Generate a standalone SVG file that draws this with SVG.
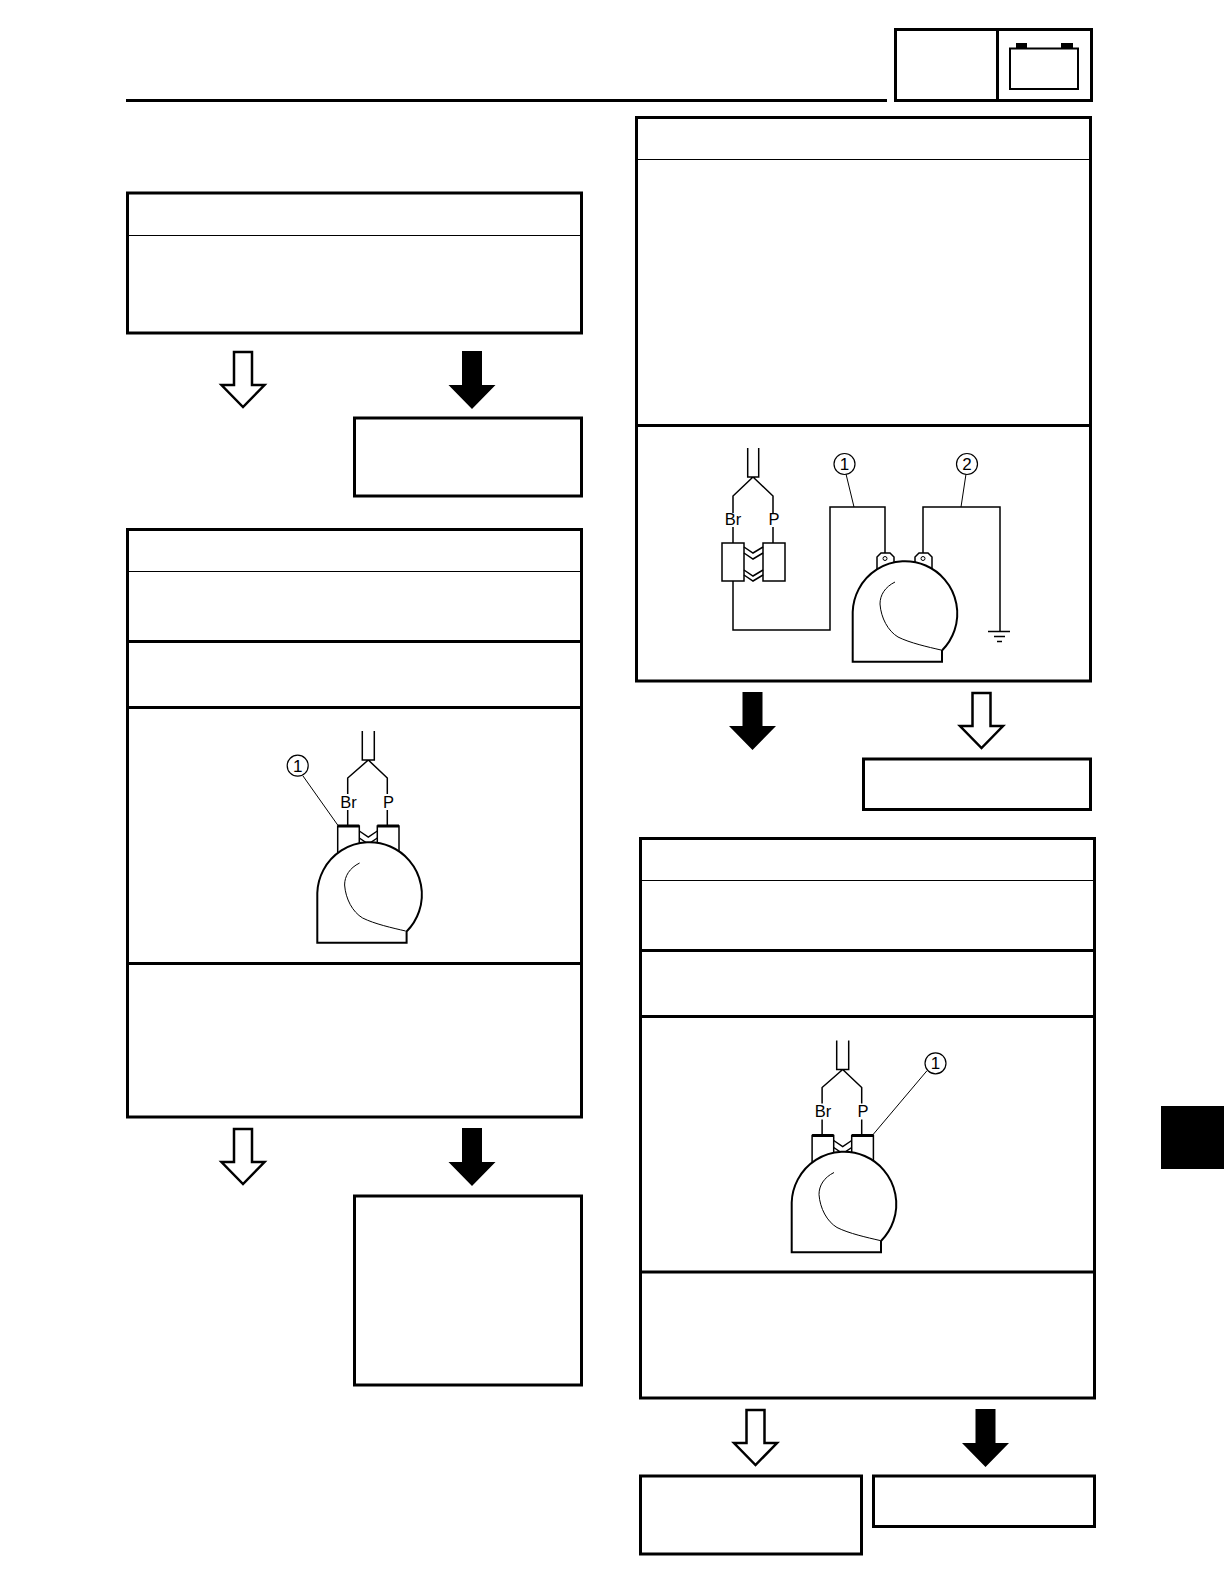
<svg xmlns="http://www.w3.org/2000/svg" xmlns:xlink="http://www.w3.org/1999/xlink" width="1224" height="1584" viewBox="0 0 1224 1584">
<style>
.box{fill:#fff;stroke:#000;stroke-width:3}
.thick{stroke:#000;stroke-width:3;fill:none}
.thin{stroke:#000;stroke-width:1;fill:none}
.wire{stroke:#000;stroke-width:1.5;fill:none}
.body{stroke:#000;stroke-width:2;fill:#fff}
.fine{stroke:#000;stroke-width:1;fill:none}
.plug{stroke:#000;stroke-width:1.5;fill:#fff}
.lbl{font-family:"Liberation Sans",Arial,sans-serif;font-size:16.5px;text-anchor:middle;fill:#000}
.num{font-family:"Liberation Sans",Arial,sans-serif;font-size:17px;text-anchor:middle;fill:#000}
.circ{stroke:#000;stroke-width:1.2;fill:#fff}
</style>
<defs>
<path id="arrow-solid" d="M-10 0H10V34H23.5L0 58L-23.5 34H-10Z" fill="#000"/>
<path id="arrow-hollow" d="M-9 1H9V34H21.5L0 56L-21.5 34H-9Z" fill="#fff" stroke="#000" stroke-width="2.5"/>
<g id="horn">
<path class="body" d="M852.7 661.7V612A52.3 52.3 0 1 1 942 650.5V661.7Z"/>
<path class="fine" d="M895 582C885 587 880 595 880 604C881 618 888 631 898 637C910 643 928 647 941 650"/>
</g>
<g id="horn-plug">
<path class="wire" d="M362.3 731V760H374.3V731M368.3 760L347.7 778V794M368.3 760L387.3 778V794M347.7 810V826M387.3 810V826"/>
<path class="plug" d="M337.7 826H359.3V870H337.7ZM377.3 826H399V870H377.3Z"/>
<path class="thick" d="M337.7 826H359.3M377.3 826H399"/>
<path class="wire" d="M359.3 831L368.3 837L377.3 831M359.3 838L368.3 844L377.3 838"/>
<use href="#horn" transform="translate(-535.4 281)"/>
<text class="lbl" x="348.5" y="807.5">Br</text>
<text class="lbl" x="388.5" y="807.5">P</text>
</g>
</defs>

<g id="header">
<path d="M126 100.5H887" stroke="#000" stroke-width="3"/>
<rect class="box" x="895.5" y="29.5" width="196" height="71"/>
<path class="thick" d="M997.5 29.5V100.5"/>
<rect x="1010" y="48.5" width="68" height="40.5" fill="#fff" stroke="#000" stroke-width="2"/>
<rect x="1016" y="43" width="11" height="5.5" fill="#000"/>
<rect x="1061" y="43" width="12" height="5.5" fill="#000"/>
</g>

<g id="box-a">
<rect class="box" x="127.5" y="193" width="454" height="140"/>
<path class="thin" d="M127.5 235.5H581.5"/>
</g>
<g id="box-b"><rect class="box" x="354.5" y="418" width="227" height="78"/></g>
<g id="box-c">
<rect class="box" x="127.5" y="529.5" width="454" height="587.5"/>
<path class="thin" d="M127.5 571.5H581.5"/>
<path class="thick" d="M127.5 641.5H581.5M127.5 707.5H581.5M127.5 963.5H581.5"/>
<use href="#horn-plug"/>
<path class="fine" d="M303 776L337.7 825"/>
<circle class="circ" cx="297.7" cy="765.7" r="10.5"/>
<text class="num" x="297.7" y="771.7">1</text>
</g>
<g id="box-d"><rect class="box" x="354.5" y="1196" width="227" height="189"/></g>
<g id="box-e">
<rect class="box" x="636.5" y="117.5" width="454" height="563.5"/>
<path class="thin" d="M636.5 159.5H1090.5"/>
<path class="thick" d="M636.5 425.5H1090.5"/>
<path class="wire" d="M747.7 448V477H758.7V448M753 477L733 496V513M753 477L773 496V513M733 527V543M773 527V543"/>
<path class="plug" d="M722 543H744V581H722ZM763 543H785V581H763Z"/>
<path class="wire" d="M744 547L753 553L763 547M744 553L753 559L763 553M744 570L753 576L763 570M744 575L753 581L763 575"/>
<text class="lbl" x="733" y="525">Br</text>
<text class="lbl" x="774" y="525">P</text>
<path class="wire" d="M733 581V630H830V507H885V553M923 553V507H1000V631.5"/>
<path class="wire" d="M988 631.5H1010M994 636.5H1005"/>
<path d="M997 641.5H1002" stroke="#000" stroke-width="1.5"/>
<path class="plug" d="M877 570V557L881 553H890L894 557V566ZM915 566V557L919 553H928L932 557V570Z"/>
<circle class="fine" cx="885" cy="558.5" r="2"/>
<circle class="fine" cx="923" cy="558.5" r="2"/>
<use href="#horn"/>
<path class="fine" d="M846 474L854 507M966 474L961 507"/>
<circle class="circ" cx="844.5" cy="464" r="10.5"/>
<circle class="circ" cx="967" cy="464" r="10.5"/>
<text class="num" x="844.5" y="470">1</text>
<text class="num" x="967" y="470">2</text>
</g>
<g id="box-f"><rect class="box" x="863.5" y="759" width="227" height="50.5"/></g>
<g id="box-g">
<rect class="box" x="640.5" y="838.5" width="454" height="559.5"/>
<path class="thin" d="M640.5 880.5H1094.5"/>
<path class="thick" d="M640.5 950.5H1094.5M640.5 1016.5H1094.5M640.5 1272H1094.5"/>
<use href="#horn-plug" transform="translate(474.4 309.5)"/>
<path class="fine" d="M927 1070.7L872.7 1135"/>
<circle class="circ" cx="935.5" cy="1063.3" r="10.5"/>
<text class="num" x="935.5" y="1069.3">1</text>
</g>
<g id="box-h"><rect class="box" x="640.5" y="1476" width="221" height="78"/></g>
<g id="box-i"><rect class="box" x="873.5" y="1476" width="221" height="50.5"/></g>
<rect id="tab" x="1161" y="1106" width="63" height="63" fill="#000"/>

<g id="connectors">
<use href="#arrow-hollow" transform="translate(243 351)"/>
<use href="#arrow-solid" transform="translate(472 351)"/>
<use href="#arrow-hollow" transform="translate(243 1128)"/>
<use href="#arrow-solid" transform="translate(472 1128)"/>
<use href="#arrow-solid" transform="translate(752.5 692)"/>
<use href="#arrow-hollow" transform="translate(981.5 692)"/>
<use href="#arrow-hollow" transform="translate(755.5 1409)"/>
<use href="#arrow-solid" transform="translate(985.5 1409)"/>
</g>
</svg>
